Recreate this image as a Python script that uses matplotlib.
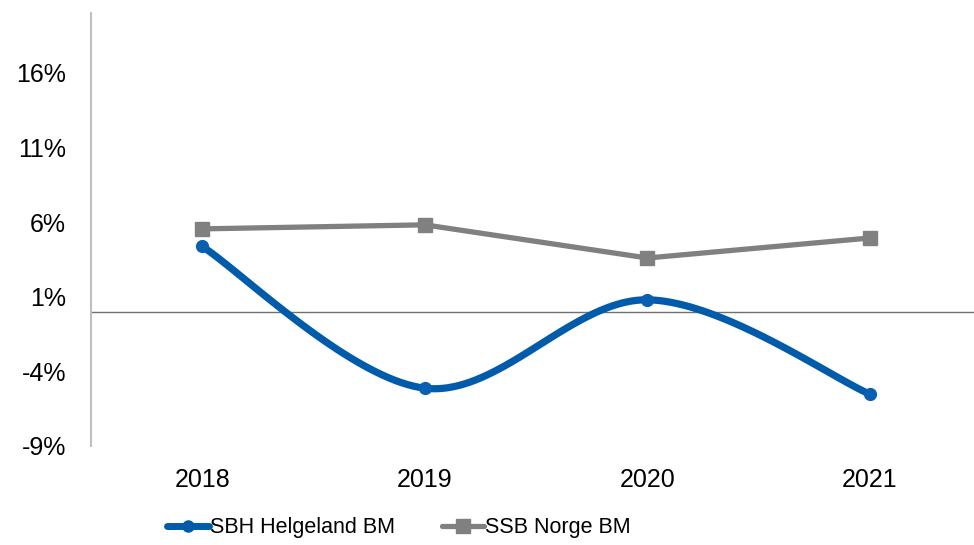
import numpy as np
import matplotlib.pyplot as plt

plt.rcParams['font.family'] = ['Liberation Sans', 'DejaVu Sans']

years = ['2018', '2019', '2020', '2021']
sbh_helgeland = [4.36, -5.13, 0.79, -5.53]
ssb_norge = [5.54, 5.81, 3.59, 4.93]
yticks = [-9, -4, 1, 6, 11, 16]


def smooth(x, y, n=40):
    # catmull-rom style smoothing like the office chart tools
    x = np.asarray(x, float)
    y = np.asarray(y, float)
    px = np.concatenate([[x[0]], x, [x[-1]]])
    py = np.concatenate([[y[0]], y, [y[-1]]])
    xs, ys = [], []
    for i in range(1, len(px) - 2):
        p0, p1, p2, p3 = (np.array([px[j], py[j]]) for j in range(i - 1, i + 3))
        c1 = p1 + (p2 - p0) / 6
        c2 = p2 - (p3 - p1) / 6
        t = np.linspace(0, 1, n)[:, None]
        b = (1 - t) ** 3 * p1 + 3 * (1 - t) ** 2 * t * c1 + 3 * (1 - t) * t ** 2 * c2 + t ** 3 * p2
        xs.extend(b[:, 0])
        ys.extend(b[:, 1])
    return xs, ys


fig = plt.figure(figsize=(9.74, 5.45), dpi=100)
ax = fig.add_axes([0.0934, 0.1817, 0.914, 0.7945])

x = np.arange(len(years))
blue = '#005BAA'
grey = '#808080'

sx, sy = smooth(x, sbh_helgeland)
ax.plot(sx, sy, color=blue, lw=5.2, solid_capstyle='round', zorder=3)
ax.plot(x, sbh_helgeland, 'o', color='#0A60B0', ms=8.5, zorder=4)
ax.plot(x, ssb_norge, color=grey, lw=3.8, marker='s', ms=10, zorder=3)

ax.axhline(0, color='#707070', lw=1, zorder=1)

# legend handles
h1, = ax.plot([], [], color=blue, lw=5, marker='o', ms=8, solid_capstyle='round')
h2, = ax.plot([], [], color=grey, lw=3.8, marker='s', ms=10, solid_capstyle='round')
fig.legend([h1, h2], ['SBH Helgeland BM', 'SSB Norge BM'], loc='center left',
           bbox_to_anchor=(167 / 974, 1 - 528 / 545), ncol=2, frameon=False, fontsize=15.5,
           handlelength=1.95, handletextpad=0.05, columnspacing=2.2,
           borderaxespad=0, borderpad=0)

ax.set_xlim(-0.5, 3.5)
ax.set_ylim(-9, 20)
ax.set_xticks(x)
ax.set_xticklabels(years)
ax.set_yticks(yticks)
ax.set_yticklabels([f'{v}%' for v in yticks])
ax.tick_params(axis='both', length=0, labelsize=18)
ax.tick_params(axis='y', pad=18)
ax.tick_params(axis='x', pad=16)

for s in ['top', 'right', 'bottom']:
    ax.spines[s].set_visible(False)
ax.spines['left'].set_color('#BFBFBF')
ax.spines['left'].set_linewidth(1.5)

fig.savefig('out.png', dpi=100)
